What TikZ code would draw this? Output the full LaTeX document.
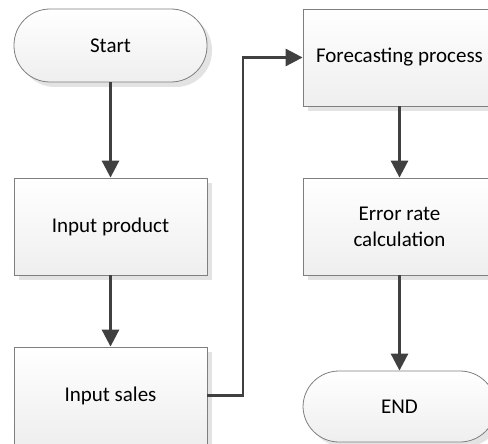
\documentclass[tikz,border=0pt]{standalone}
\usepackage{fontspec}
\setmainfont{Carlito}
\usetikzlibrary{arrows.meta,shadows}
\definecolor{lineaGris}{HTML}{404040}
\definecolor{bordeGris}{HTML}{7F7F7F}

\begin{document}
\begin{tikzpicture}[x=1pt,y=1pt,>={Triangle[length=17pt,width=17pt]},
  caja/.style={draw=bordeGris,line width=0.8pt,top color=white,bottom color=gray!13,
    minimum width=193pt,minimum height=97pt,inner sep=2pt,align=center,
    font=\fontsize{21}{26}\selectfont,
    drop shadow={shadow xshift=5pt,shadow yshift=-5pt,fill=gray!22,opacity=1}},
  terminal/.style={caja,rounded corners=36pt,minimum height=73pt},
  flecha/.style={->,draw=lineaGris,line width=2.9pt}]
  \useasboundingbox (0,0) rectangle (488,-444);
  \clip (0,0) rectangle (488,-444);
  % left column
  \node[terminal] (start) at (110.5,-45.5) {Start};
  \node[caja] (inprod) at (110.5,-226.5) {Input product};
  \node[caja] (insales) at (110.5,-395.5) {Input sales};
  % right column
  \node[caja] (forecast) at (399.5,-57.5) {Forecasting process};
  \node[caja] (errcalc) at (399.5,-226.5) {Error rate\\calculation};
  \node[terminal,minimum height=71pt] (fin) at (399.5,-406.5) {END};
  % connectors
  \draw[flecha] (start) -- (inprod);
  \draw[flecha] (inprod) -- (insales);
  \coordinate (codo) at (243,-395.5);
  \draw[flecha] (insales.east) -- (codo) |- (forecast.west);
  \draw[flecha] (forecast) -- (errcalc);
  \draw[flecha] (errcalc) -- (fin);
\end{tikzpicture}
\end{document}
